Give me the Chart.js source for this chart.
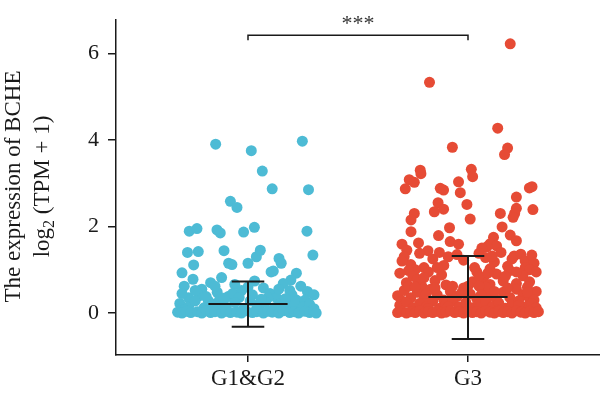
<!DOCTYPE html>
<html>
<head>
<meta charset="utf-8">
<script src="https://cdn.jsdelivr.net/npm/chart.js@4"></script>
<style>
  html, body { margin: 0; padding: 0; background: #fff; }
</style>
</head>
<body>
<canvas id="chart" width="600" height="398"></canvas>
<script>
const groups = ["G1&G2", "G3"];
const yTicks = [0, 2, 4, 6];

// each point: [jitter offset from group centre, log2(TPM + 1)]
const g1Points = [
  [-0.147, 3.90], [0.015, 3.75], [0.247, 3.97], [0.065, 3.28], [0.11, 2.87], [0.275, 2.85],
  [-0.08, 2.58], [-0.05, 2.44], [-0.267, 1.89], [-0.232, 1.95], [-0.141, 1.92], [-0.126, 1.85],
  [-0.02, 1.87], [0.029, 1.98], [0.268, 1.89], [-0.275, 1.40], [-0.226, 1.42], [-0.109, 1.44],
  [-0.088, 1.15], [-0.073, 1.12], [0.0, 1.15], [0.038, 1.30], [0.056, 1.45], [0.141, 1.26],
  [0.151, 1.15], [0.295, 1.34], [-0.30, 0.93], [-0.247, 1.11], [0.105, 0.95], [0.115, 0.97],
  [0.22, 0.92], [0.195, 0.76],
  [-0.29, 0.62], [-0.25, 0.78], [-0.21, 0.55], [-0.17, 0.70], [-0.14, 0.48], [-0.12, 0.82],
  [-0.06, 0.66], [-0.03, 0.52], [0.03, 0.74], [0.07, 0.58], [0.10, 0.45], [0.16, 0.68],
  [0.19, 0.52], [0.24, 0.62], [0.27, 0.50], [0.30, 0.42], [-0.22, 0.40], [-0.09, 0.38],
  [0.00, 0.60], [0.13, 0.35], [-0.27, 0.35], [0.22, 0.30], [-0.18, 0.28],
  [-0.30, 0.45], [-0.24, 0.52], [-0.19, 0.38], [-0.15, 0.62], [-0.07, 0.45], [0.02, 0.42],
  [0.09, 0.35], [0.14, 0.55], [0.20, 0.42], [0.26, 0.30], [-0.04, 0.36], [0.05, 0.12],
  [-0.14, 0.10], [0.23, 0.10],
  [-0.31, 0.22], [-0.27, 0.15], [-0.24, 0.28], [-0.20, 0.12], [-0.16, 0.20], [-0.13, 0.30],
  [-0.10, 0.14], [-0.06, 0.24], [-0.02, 0.10], [0.01, 0.28], [0.04, 0.18], [0.08, 0.25],
  [0.12, 0.12], [0.15, 0.22], [0.18, 0.15], [0.21, 0.26], [0.25, 0.14], [0.28, 0.20],
  [0.30, 0.10], [-0.29, 0.08], [-0.11, 0.34], [0.06, 0.32], [0.17, 0.33],
  [-0.32, 0.02], [-0.30, 0.00], [-0.28, 0.04], [-0.26, 0.01], [-0.23, 0.03], [-0.21, 0.00],
  [-0.19, 0.05], [-0.17, 0.01], [-0.15, 0.03], [-0.12, 0.00], [-0.10, 0.04], [-0.08, 0.01],
  [-0.05, 0.02], [-0.03, 0.00], [-0.01, 0.05], [0.02, 0.01], [0.04, 0.03], [0.07, 0.00],
  [0.09, 0.04], [0.11, 0.02], [0.14, 0.00], [0.16, 0.05], [0.19, 0.01], [0.21, 0.03],
  [0.23, 0.00], [0.26, 0.04], [0.28, 0.01], [0.30, 0.03], [0.31, 0.00]
];

const g3Points = [
  [0.192, 6.22], [-0.175, 5.33], [0.135, 4.27], [-0.071, 3.83], [0.18, 3.81], [0.166, 3.66],
  [0.015, 3.32], [-0.217, 3.30], [-0.214, 3.22], [-0.267, 3.08], [-0.244, 3.02], [-0.285, 2.87],
  [0.021, 3.15], [-0.043, 3.03], [-0.126, 2.88], [-0.111, 2.84], [-0.035, 2.78], [0.279, 2.89],
  [0.291, 2.92], [0.22, 2.68], [-0.136, 2.55], [-0.005, 2.51], [-0.153, 2.34], [-0.111, 2.40],
  [0.22, 2.42], [0.212, 2.30], [0.147, 2.30], [0.295, 2.39], [-0.244, 2.30], [-0.259, 2.15],
  [0.01, 2.17], [0.205, 2.21], [0.155, 1.99], [-0.084, 1.97], [-0.259, 1.88], [-0.134, 1.79],
  [0.192, 1.80], [0.22, 1.67], [-0.30, 1.59], [-0.225, 1.62], [-0.081, 1.65], [-0.043, 1.59],
  [0.116, 1.75], [0.10, 1.60], [0.13, 1.55], [-0.278, 1.45], [-0.182, 1.44], [0.086, 1.53],
  [0.063, 1.50],
  [-0.29, 1.30], [-0.26, 1.12], [-0.22, 1.38], [-0.20, 1.05], [-0.16, 1.25], [-0.13, 1.40],
  [-0.11, 1.10], [-0.05, 1.35], [-0.02, 1.22], [0.03, 1.05], [0.05, 1.38], [0.08, 1.28],
  [0.12, 1.18], [0.15, 1.40], [0.18, 1.08], [0.21, 1.32], [0.24, 1.36], [0.26, 1.20],
  [0.29, 1.34], [0.30, 1.15], [-0.24, 1.00], [0.10, 1.02], [0.20, 1.25], [-0.09, 1.30],
  [0.26, 1.05], [-0.14, 1.05], [-0.27, 0.98], [-0.30, 1.20], [0.11, 1.32], [0.28, 1.00],
  [-0.31, 0.92], [-0.28, 0.70], [-0.25, 0.85], [-0.21, 0.62], [-0.18, 0.95], [-0.15, 0.75],
  [-0.12, 0.88], [-0.10, 0.65], [0.02, 0.72], [0.04, 0.95], [0.07, 0.80], [0.10, 0.66],
  [0.13, 0.90], [0.16, 0.74], [0.19, 0.98], [0.22, 0.68], [0.25, 0.86], [0.28, 0.72],
  [0.31, 0.95], [-0.23, 0.78], [0.00, 0.62], [0.27, 0.60],
  [0.17, 0.85], [0.22, 0.95], [-0.20, 0.82], [0.05, 0.85], [0.09, 0.92],
  [-0.32, 0.40], [-0.29, 0.52], [-0.26, 0.35], [-0.23, 0.48], [-0.20, 0.32], [-0.17, 0.55],
  [-0.14, 0.42], [-0.11, 0.30], [-0.08, 0.50], [-0.05, 0.38], [-0.02, 0.58], [0.01, 0.44],
  [0.04, 0.33], [0.07, 0.52], [0.10, 0.40], [0.13, 0.30], [0.16, 0.48], [0.19, 0.36],
  [0.22, 0.55], [0.25, 0.42], [0.28, 0.32], [0.31, 0.50], [-0.07, 0.62], [0.08, 0.60],
  [-0.27, 0.62], [-0.19, 0.45], [-0.15, 0.58], [-0.03, 0.46], [0.05, 0.62], [0.12, 0.50],
  [0.18, 0.58], [0.27, 0.48], [-0.30, 0.28], [0.30, 0.30], [-0.24, 0.60], [0.06, 0.42],
  [-0.31, 0.18], [-0.28, 0.25], [-0.25, 0.12], [-0.22, 0.22], [-0.19, 0.15], [-0.16, 0.27],
  [-0.13, 0.11], [-0.10, 0.20], [-0.07, 0.28], [-0.04, 0.14], [-0.01, 0.24], [0.02, 0.12],
  [0.05, 0.20], [0.08, 0.27], [0.11, 0.15], [0.14, 0.23], [0.17, 0.11], [0.20, 0.20],
  [0.23, 0.28], [0.26, 0.14], [0.29, 0.22], [0.31, 0.12], [-0.09, 0.15], [0.23, 0.18],
  [0.14, 0.08], [-0.18, 0.10],
  [-0.32, 0.01], [-0.30, 0.04], [-0.28, 0.00], [-0.26, 0.03], [-0.24, 0.01], [-0.22, 0.05],
  [-0.20, 0.00], [-0.18, 0.03], [-0.16, 0.01], [-0.14, 0.04], [-0.12, 0.00], [-0.10, 0.02],
  [-0.08, 0.05], [-0.06, 0.01], [-0.04, 0.03], [-0.02, 0.00], [0.00, 0.04], [0.02, 0.01],
  [0.04, 0.03], [0.06, 0.00], [0.08, 0.05], [0.10, 0.02], [0.12, 0.00], [0.14, 0.04],
  [0.16, 0.01], [0.18, 0.03], [0.20, 0.00], [0.22, 0.05], [0.24, 0.02], [0.26, 0.00],
  [0.28, 0.04], [0.30, 0.01], [0.32, 0.03]
];

const groupMeans = [0.21, 0.37];
const groupLower = [-0.32, -0.60];
const groupUpper = [0.73, 1.32];
const bracketY = 6.42;
const signifLabel = "***";

const FONT = '"Liberation Serif", "DejaVu Serif", serif';
const INK = "#1a1a1a";

function segment(points, width) {
  return {
    type: "line",
    data: points,
    borderColor: INK,
    borderWidth: width,
    pointRadius: 0,
    showLine: true,
    fill: false,
    tension: 0,
    order: 0,
  };
}

function summaryBars(i) {
  const cx = i + 1;
  const m = groupMeans[i], lo = groupLower[i], hi = groupUpper[i];
  return [
    segment([{ x: cx - 0.18, y: m }, { x: cx + 0.18, y: m }], 2),
    segment([{ x: cx, y: lo }, { x: cx, y: hi }], 2),
    segment([{ x: cx - 0.074, y: hi }, { x: cx + 0.074, y: hi }], 2),
    segment([{ x: cx - 0.074, y: lo }, { x: cx + 0.074, y: lo }], 2),
  ];
}

const datasets = [
  ...summaryBars(0),
  ...summaryBars(1),
  segment([
    { x: 1, y: bracketY - 0.12 }, { x: 1, y: bracketY },
    { x: 2, y: bracketY }, { x: 2, y: bracketY - 0.12 },
  ], 1.5),
  {
    type: "scatter",
    data: g1Points.map(([dx, y]) => ({ x: 1 + dx, y })),
    backgroundColor: "#4DBBD5",
    borderWidth: 0,
    pointRadius: 5.5,
    order: 1,
  },
  {
    type: "scatter",
    data: g3Points.map(([dx, y]) => ({ x: 2 + dx, y })),
    backgroundColor: "#E64B35",
    borderWidth: 0,
    pointRadius: 5.5,
    order: 1,
  },
];

// y-axis title (two lines, with subscript) and significance stars
const annotations = {
  id: "annotations",
  afterDraw(chart) {
    const ctx = chart.ctx;
    const area = chart.chartArea;
    const cy = (area.top + area.bottom) / 2 - 1;
    ctx.save();
    ctx.fillStyle = INK;
    ctx.textBaseline = "alphabetic";

    ctx.save();
    ctx.translate(20, cy);
    ctx.rotate(-Math.PI / 2);
    ctx.font = "23px " + FONT;
    ctx.textAlign = "center";
    ctx.fillText("The expression of BCHE", 0, 0);
    ctx.restore();

    ctx.save();
    ctx.translate(49, cy);
    ctx.rotate(-Math.PI / 2);
    ctx.textAlign = "left";
    const bigFont = "23px " + FONT, smallFont = "16px " + FONT;
    ctx.font = bigFont;
    const w1 = ctx.measureText("log").width;
    const w3 = ctx.measureText(" (TPM + 1)").width;
    ctx.font = smallFont;
    const w2 = ctx.measureText("2").width;
    let x = -(w1 + w2 + w3) / 2;
    ctx.font = bigFont;
    ctx.fillText("log", x, 0);
    x += w1;
    ctx.font = smallFont;
    ctx.fillText("2", x, 5);
    x += w2;
    ctx.font = bigFont;
    ctx.fillText(" (TPM + 1)", x, 0);
    ctx.restore();

    const xs = chart.scales.x, ys = chart.scales.y;
    ctx.font = "22px " + FONT;
    ctx.textAlign = "center";
    ctx.fillStyle = "#333";
    ctx.fillText(signifLabel, xs.getPixelForValue(1.5), ys.getPixelForValue(bracketY) - 5);
    ctx.restore();
  },
};

new Chart(document.getElementById("chart"), {
  type: "scatter",
  data: { datasets },
  options: {
    responsive: false,
    animation: false,
    devicePixelRatio: 1,
    layout: { autoPadding: false, padding: { top: 20, right: 0, left: 0, bottom: 0 } },
    plugins: { legend: { display: false }, tooltip: { enabled: false } },
    scales: {
      x: {
        type: "linear",
        min: 0.4,
        max: 2.6,
        afterFit: (scale) => {
          scale.height = 43;
          scale.paddingLeft = 0;
          scale.paddingRight = 0;
        },
        afterBuildTicks: (scale) => { scale.ticks = groups.map((g, i) => ({ value: i + 1 })); },
        ticks: {
          callback: (v) => groups[v - 1],
          font: { family: FONT, size: 23 },
          color: INK,
          padding: 3,
          maxRotation: 0,
        },
        grid: { drawOnChartArea: false, drawTicks: true, tickLength: 7, color: INK, lineWidth: 1.5 },
        border: { display: true, color: INK, width: 1.5 },
      },
      y: {
        type: "linear",
        min: -0.97,
        max: 6.77,
        afterFit: (scale) => {
          scale.width = 116;
          scale.paddingTop = 0;
          scale.paddingBottom = 0;
        },
        afterBuildTicks: (scale) => { scale.ticks = yTicks.map((v) => ({ value: v })); },
        ticks: {
          font: { family: FONT, size: 22 },
          color: INK,
          padding: 9,
        },
        grid: { drawOnChartArea: false, drawTicks: true, tickLength: 8, color: INK, lineWidth: 1.5 },
        border: { display: true, color: INK, width: 1.5 },
      },
    },
  },
  plugins: [annotations],
});
</script>
</body>
</html>
